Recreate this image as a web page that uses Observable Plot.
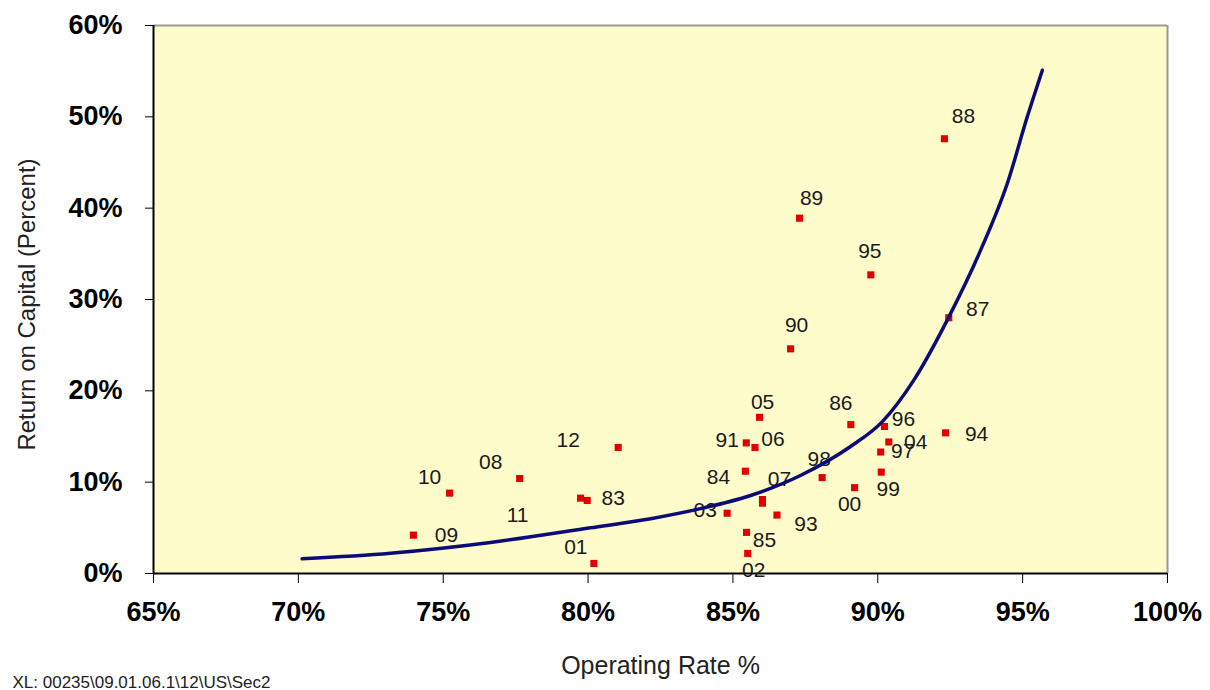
<!DOCTYPE html>
<html>
<head>
<meta charset="utf-8">
<script src="https://cdn.jsdelivr.net/npm/d3@7"></script>
<script src="https://cdn.jsdelivr.net/npm/@observablehq/plot@0.6"></script>
<style>
  html, body { margin: 0; padding: 0; background: #ffffff; }
  #chart svg { display: block; }
</style>
</head>
<body>
<div id="chart"></div>
<script>
// ---- data ----
const years = ["83","84","85","86","87","88","89","90","91","92","93","94","95","96","97","98","99","00","01","02","03","04","05","06","07","08","09","10","11","12"];
const operatingRate = [79.97,85.43,85.47,89.07,92.45,92.30,87.30,86.99,85.46,86.02,86.52,92.34,89.76,90.23,90.10,88.08,90.12,89.20,80.20,85.51,84.80,90.38,85.92,85.76,86.02,77.64,73.97,75.22,79.74,81.04];
const returnOnCapital = [8.0,11.2,4.5,16.3,28.0,47.6,38.9,24.6,14.3,7.7,6.4,15.4,32.7,16.1,13.3,10.5,11.1,9.4,1.1,2.2,6.6,14.4,17.1,13.8,8.1,10.4,4.2,8.8,8.25,13.8];
// years whose label is visible in the reference
const labelled = years.filter(y => y !== "92");

// fitted curve
const curveRate = [70.13,73.18,76.63,80.08,82.16,83.88,85.61,87.33,89.06,90.15,91.25,92.45,93.55,94.47,95.16,95.68];
const curveReturn = [1.61,2.22,3.4,5.0,6.0,7.1,8.54,10.73,13.9,16.6,21.2,28.07,35.4,42.7,50.0,55.1];

const xTicks = [65,70,75,80,85,90,95,100];
const yTicks = [0,10,20,30,40,50,60];

// ---- layout: label nudges in pixels (placement only) ----
const labelNudge = {
  "83":[26,-2],"84":[-27,6],"85":[18,8],"86":[-10,-21],"87":[29,-9],"88":[19,-22],"89":[12,-20],
  "90":[6,-24],"91":[-19,-3],"93":[29,9],"94":[31,1],"95":[-1,-24],"96":[19,-7],"97":[22,-1],
  "98":[-3,-18],"99":[7,17],"00":[-5,17],"01":[-18,-16],"02":[6,17],"03":[-22,-3],"04":[27,0],
  "05":[3,-15],"06":[18,-8],"07":[17,-20],"08":[-29,-16],"09":[33,0],"10":[-20,-16],"11":[-63,17],"12":[-50,-7]
};

const points = years.map((yr, i) => ({year: yr, x: operatingRate[i], y: returnOnCapital[i]}));
const curve = curveRate.map((x, i) => ({x, y: curveReturn[i]}));

const font = "'Liberation Sans', Arial, sans-serif";
const pct = d => d + "%";

const labelMarks = labelled.map(yr => {
  const p = points.find(d => d.year === yr);
  const [dx, dy] = labelNudge[yr];
  return Plot.text([p], {x: "x", y: "y", text: "year", dx, dy, fontSize: 21, fill: "#1a1a1a"});
});

const chart = Plot.plot({
  width: 1210,
  height: 690,
  marginLeft: 153,
  marginRight: 43,
  marginTop: 25,
  marginBottom: 117,
  style: {fontFamily: font, background: "#ffffff", overflow: "visible"},
  x: {domain: [65, 100], axis: null},
  y: {domain: [0, 60], axis: null},
  marks: [
    Plot.frame({fill: "#fefccb", stroke: null}),
    // top and right border (grey)
    Plot.ruleY([60], {stroke: "#9a9a90", strokeWidth: 2}),
    Plot.ruleX([100], {stroke: "#9a9a90", strokeWidth: 2}),
    Plot.axisX({ticks: xTicks, tickFormat: pct, tickSize: 10, tickPadding: 18, fontSize: 27, fontWeight: "bold", label: null, stroke: "#000"}),
    Plot.axisY({ticks: yTicks, tickFormat: pct, tickSize: 8, tickPadding: 23, fontSize: 27, fontWeight: "bold", label: null, stroke: "#000"}),
    // left and bottom axis lines (black)
    Plot.ruleX([65], {stroke: "#000", strokeWidth: 2}),
    Plot.ruleY([0], {stroke: "#000", strokeWidth: 2}),
    Plot.dot(points, {x: "x", y: "y", symbol: "square", r: 4, fill: "#e00000", stroke: null}),
    ...labelMarks,
    Plot.line(curve, {x: "x", y: "y", curve: "monotone-x", stroke: "#0c0c78", strokeWidth: 3.5}),
    // axis titles and footnote
    Plot.text(["Operating Rate %"], {frameAnchor: "bottom", textAnchor: "middle", lineAnchor: "middle", dy: 92, fontSize: 25, fill: "#222"}),
    Plot.text(["Return on Capital (Percent)"], {frameAnchor: "left", textAnchor: "middle", lineAnchor: "middle", dx: -126, dy: 5, rotate: -90, fontSize: 24, fill: "#222"}),
    Plot.text(["XL: 00235\\09.01.06.1\\12\\US\\Sec2"], {frameAnchor: "bottom-left", textAnchor: "start", lineAnchor: "bottom", dx: -141, dy: 114, fontSize: 17, fill: "#222"})
  ]
});
document.getElementById("chart").appendChild(chart);
</script>
</body>
</html>
